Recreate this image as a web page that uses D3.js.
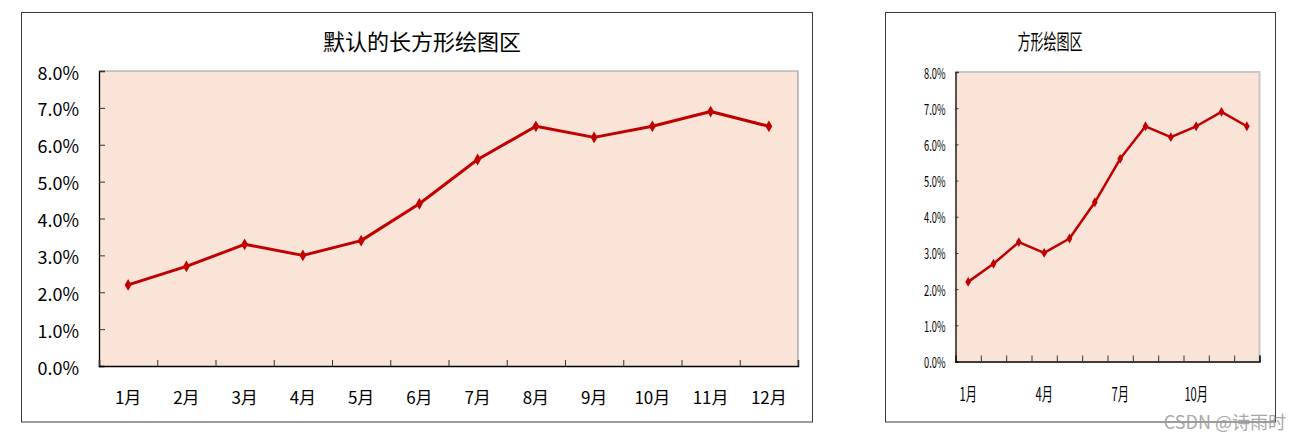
<!DOCTYPE html>
<html>
<head>
<meta charset="utf-8">
<script src="https://cdn.jsdelivr.net/npm/d3@7"></script>
<style>
  body { margin: 0; background: #fff; }
  svg { display: block; }
  text { font-family: "Noto Sans CJK SC", "Noto Sans", sans-serif; fill: #000; }
</style>
</head>
<body>
<svg id="chart" width="1300" height="440"></svg>
<script>
// data
const months = ["1月", "2月", "3月", "4月", "5月", "6月", "7月", "8月", "9月", "10月", "11月", "12月"];
const rates = [2.2, 2.7, 3.3, 3.0, 3.4, 4.4, 5.6, 6.5, 6.2, 6.5, 6.9, 6.5];
const yTicks = [0, 1, 2, 3, 4, 5, 6, 7, 8];
const rightLabels = ["1月", "4月", "7月", "10月"];
const titles = ["默认的长方形绘图区", "方形绘图区"];

const svg = d3.select("#chart");
const lineColor = "#C00000";
const plotFill = "#FAE4D7";

function drawChart(o) {
  // outer frame
  svg.append("rect")
    .attr("x", o.box[0]).attr("y", o.box[1])
    .attr("width", o.box[2]).attr("height", o.box[3])
    .attr("fill", "#fff").attr("stroke", "#3a3a3a").attr("stroke-width", 1);

  const x = d3.scaleBand().domain(months).range([o.left, o.right]);
  const xb = d3.scaleLinear().domain([0, months.length]).range([o.left, o.right]);
  const y = d3.scaleLinear().domain([0, 8]).range([o.bottom, o.top]);

  // plot area
  svg.append("rect")
    .attr("x", o.left).attr("y", o.top)
    .attr("width", o.right - o.left).attr("height", o.bottom - o.top)
    .attr("fill", plotFill);
  svg.append("path")
    .attr("d", `M${o.left},${o.top}H${o.right}V${o.bottom}`)
    .attr("fill", "none").attr("stroke", o.frameColor).attr("stroke-width", o.frameWidth);

  // title
  svg.append("text")
    .attr("transform", `translate(${o.titleX},${o.titleY}) scale(${o.sx},1)`)
    .attr("text-anchor", "middle")
    .style("font-size", o.titleSize + "px")
    .text(o.title);

  // y axis
  const ya = svg.append("g")
    .attr("transform", `translate(${o.left},0)`)
    .call(d3.axisLeft(y).tickValues(yTicks).tickSize(-o.tick).tickPadding(0)
      .tickFormat(d => d.toFixed(1) + "%"));
  ya.select(".domain").attr("stroke", "#000").attr("stroke-width", 1.3);
  ya.selectAll(".tick line").attr("stroke", "#333");
  ya.selectAll(".tick text")
    .attr("x", null).attr("dy", null)
    .attr("dominant-baseline", "central")
    .attr("transform", `translate(${-o.yPad},0) scale(${o.sx},1)`)
    .style("font-size", o.labelSize + "px");

  // x boundary ticks
  const xt = svg.append("g")
    .attr("transform", `translate(0,${o.bottom})`)
    .call(d3.axisBottom(xb).ticks(months.length).tickSize(-6).tickFormat(""));
  xt.select(".domain").attr("stroke", "#000").attr("stroke-width", 1.5);
  xt.selectAll(".tick line").attr("stroke", "#333");

  // x labels
  const xl = svg.append("g")
    .attr("transform", `translate(0,${o.bottom})`)
    .call(d3.axisBottom(x).tickSize(0).tickValues(o.xLabels).tickPadding(0));
  xl.select(".domain").remove();
  xl.selectAll(".tick text")
    .attr("y", null).attr("dy", null)
    .attr("dominant-baseline", "central")
    .attr("transform", `translate(0,${o.xPad}) scale(${o.sxX},1)`)
    .style("font-size", o.xSize + "px");

  // series
  const line = d3.line()
    .x((d, i) => x(months[i]) + x.bandwidth() / 2)
    .y(d => y(d));
  svg.append("path")
    .datum(rates)
    .attr("d", line)
    .attr("fill", "none")
    .attr("stroke", lineColor)
    .attr("stroke-width", o.lineWidth)
    .attr("stroke-linejoin", "round");
  svg.append("g").selectAll("path")
    .data(rates)
    .join("path")
    .attr("transform", (d, i) => `translate(${x(months[i]) + x.bandwidth() / 2},${y(d)})`)
    .attr("d", d3.symbol(d3.symbolDiamond, o.marker))
    .attr("fill", lineColor);
}

drawChart({
  box: [21.5, 12.5, 791, 409.5],
  left: 99, right: 798, top: 71, bottom: 366,
  title: titles[0], titleX: 422, titleY: 50, titleSize: 22,
  sx: 1, sxX: 1, tick: 6, yPad: 20, labelSize: 18,
  xLabels: months, xPad: 30, xSize: 17,
  frameColor: "#9a9a9a", frameWidth: 1.2,
  lineWidth: 3, marker: 40
});

drawChart({
  box: [885.5, 12.5, 390, 409.5],
  left: 955.5, right: 1259.5, top: 72, bottom: 361.5,
  title: titles[1], titleX: 1050, titleY: 49, titleSize: 21,
  sx: 0.62, sxX: 0.62, tick: 3, yPad: 10, labelSize: 15,
  xLabels: rightLabels, xPad: 32, xSize: 18,
  frameColor: "#c8c8c8", frameWidth: 2,
  lineWidth: 2.5, marker: 28
});

// watermark
svg.append("text")
  .attr("x", 1286).attr("y", 429)
  .attr("text-anchor", "end")
  .style("font-size", "18px")
  .style("fill", "#9a9a9a")
  .style("opacity", 0.85)
  .text("CSDN @诗雨时");
</script>
</body>
</html>
